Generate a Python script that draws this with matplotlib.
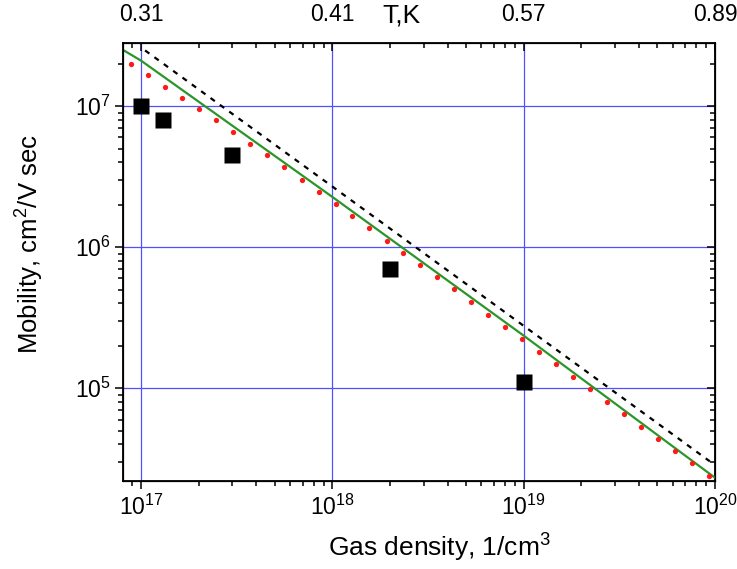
import matplotlib
matplotlib.use("Agg")
import matplotlib.pyplot as plt
from matplotlib.ticker import NullFormatter, LogLocator

plt.rcParams['font.family'] = ['Liberation Sans', 'DejaVu Sans']
plt.rcParams['mathtext.fontset'] = 'custom'
plt.rcParams['mathtext.rm'] = 'Liberation Sans'
plt.rcParams['mathtext.it'] = 'Liberation Sans:italic'
plt.rcParams['mathtext.bf'] = 'Liberation Sans:bold'

# ---- data ----
sq_density = [1.0e17, 1.3e17, 3.0e17, 2.0e18, 1.0e19]
sq_mobility = [1.0e7, 8.0e6, 4.5e6, 7.0e5, 1.1e5]

red_density = [8.9e16, 1.09e17, 1.34e17, 1.64e17, 2.02e17, 2.48e17, 3.04e17,
               3.73e17, 4.58e17, 5.62e17, 6.90e17, 8.47e17, 1.04e18, 1.27e18,
               1.56e18, 1.92e18, 2.35e18, 2.88e18, 3.53e18, 4.34e18, 5.30e18,
               6.50e18, 7.98e18, 9.80e18, 1.20e19, 1.47e19, 1.81e19, 2.22e19,
               2.71e19, 3.33e19, 4.08e19, 5.01e19, 6.18e19, 7.59e19, 9.33e19]
red_mobility = [1.98e7, 1.65e7, 1.37e7, 1.15e7, 9.57e6, 7.93e6, 6.52e6,
                5.42e6, 4.48e6, 3.68e6, 3.01e6, 2.47e6, 2.02e6, 1.65e6,
                1.36e6, 1.11e6, 9.12e5, 7.51e5, 6.14e5, 5.02e5, 4.10e5,
                3.33e5, 2.72e5, 2.23e5, 1.81e5, 1.48e5, 1.20e5, 9.82e4,
                8.03e4, 6.54e4, 5.35e4, 4.37e4, 3.58e4, 2.93e4, 2.38e4]

green_density = [8.05e16, 1.0e17, 1.0e18, 1.0e19, 1.0e20]
green_mobility = [2.5e7, 2.10e7, 2.27e6, 2.36e5, 2.32e4]

dash_density = [1.05e17, 1.0e18, 9.4e19]
dash_mobility = [2.48e7, 2.69e6, 3.03e4]

x_ticks = [1e17, 1e18, 1e19, 1e20]
x_ticklabels = [r'$\mathregular{10^{17}}$', r'$\mathregular{10^{18}}$',
                r'$\mathregular{10^{19}}$', r'$\mathregular{10^{20}}$']
y_ticks = [1e5, 1e6, 1e7]
y_ticklabels = [r'$\mathregular{10^{5}}$', r'$\mathregular{10^{6}}$',
                r'$\mathregular{10^{7}}$']
top_ticklabels = ['0.31', '0.41', '0.57', '0.89']

xlim = (8.05e16, 1e20)
ylim = (2.2e4, 2.8e7)

fig = plt.figure(figsize=(7.37, 5.69), dpi=100)
ax = fig.add_axes([123/737, 1 - 481/569, (715-123)/737, (481-43)/569])
ax.set_xscale('log')
ax.set_yscale('log')
ax.set_xlim(*xlim)
ax.set_ylim(*ylim)

grid_color = '#5050ff'
ax.set_axisbelow(True)
ax.grid(True, which='major', color=grid_color, lw=0.9)

ax.plot(dash_density, dash_mobility, color='black', lw=1.6, ls=(0, (2.4, 2.8)), zorder=3)
ax.plot(green_density, green_mobility, color='#2a962a', lw=1.6, zorder=4)
ax.plot(red_density, red_mobility, ls='none', marker='o', ms=3.8, mec='none',
        color='#ff1a1a', zorder=5)
ax.plot(sq_density, sq_mobility, ls='none', marker='s', ms=11.5, mec='none',
        color='black', zorder=6)

ax.set_xticks(x_ticks)
ax.set_xticklabels(x_ticklabels)
ax.set_yticks(y_ticks)
ax.set_yticklabels(y_ticklabels)
ax.xaxis.set_minor_locator(LogLocator(base=10, subs=range(2, 10)))
ax.yaxis.set_minor_locator(LogLocator(base=10, subs=range(2, 10)))
ax.xaxis.set_minor_formatter(NullFormatter())
ax.yaxis.set_minor_formatter(NullFormatter())
ax.tick_params(which='both', direction='out', top=False, right=False,
               labelsize=16.5, width=1.1, colors='black')
ax.tick_params(which='major', length=6)
ax.tick_params(which='minor', length=3.5)
ax.tick_params(axis='x', which='major', pad=4)
ax.tick_params(axis='y', which='major', pad=3)
for s in ax.spines.values():
    s.set_linewidth(1.3)

# top axis (temperature)
axt = ax.twiny()
axt.set_xscale('log')
axt.set_xlim(*xlim)
axt.set_xticks(x_ticks)
axt.set_xticklabels(top_ticklabels)
axt.xaxis.set_minor_locator(LogLocator(base=10, subs=range(2, 10)))
axt.xaxis.set_minor_formatter(NullFormatter())
axt.tick_params(which='both', direction='in', labelsize=16.5, width=1.1)
axt.tick_params(which='major', length=6, pad=12)
axt.tick_params(which='minor', length=3.5)

# right axis ticks (inward)
axr = ax.twinx()
axr.set_yscale('log')
axr.set_ylim(*ylim)
axr.set_yticks(y_ticks)
axr.yaxis.set_minor_locator(LogLocator(base=10, subs=range(2, 10)))
axr.yaxis.set_major_formatter(NullFormatter())
axr.yaxis.set_minor_formatter(NullFormatter())
axr.tick_params(which='both', direction='in', width=1.1)
axr.tick_params(which='major', length=6)
axr.tick_params(which='minor', length=3.5)

ax.set_xlabel(r'Gas density, 1/cm$^\mathregular{3}$', fontsize=19)
ax.xaxis.set_label_coords(0.534, -0.115)
ax.set_ylabel(r'Mobility, cm$^\mathregular{2}$/V sec', fontsize=18.5)
ax.yaxis.set_label_coords(-0.13, 0.542)
fig.text(401/737, 1 - 22.5/569, 'T,K', fontsize=19, ha='center', va='baseline')

fig.savefig('out.png', dpi=100)
